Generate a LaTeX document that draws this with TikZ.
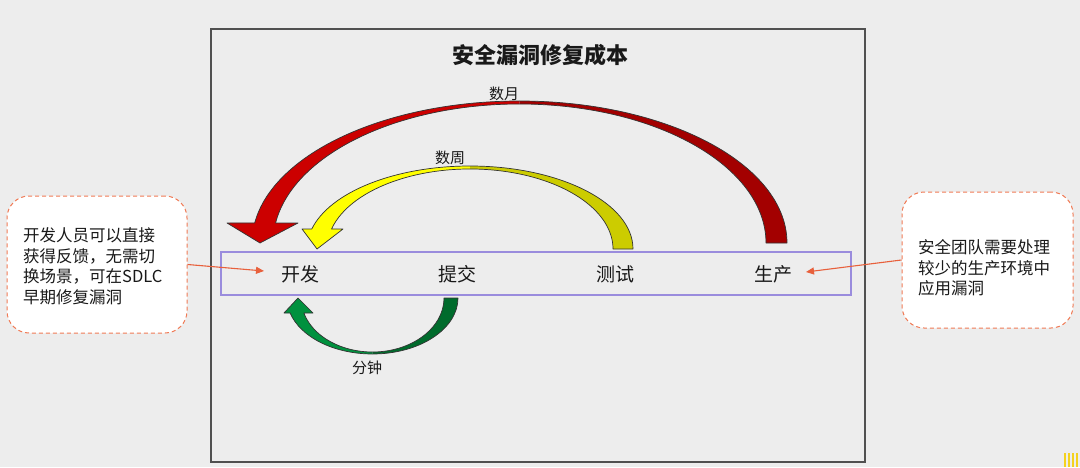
\documentclass[tikz,border=0pt]{standalone}
\usepackage{fontspec}
\newfontfamily\cjk{Noto Sans CJK SC}
\usetikzlibrary{arrows.meta}
\definecolor{bg}{HTML}{EDEDED}
\definecolor{framec}{HTML}{505050}
\definecolor{rowc}{HTML}{9A8CDD}
\definecolor{calloutc}{HTML}{F07A55}
\definecolor{linkc}{HTML}{E8603C}
\definecolor{redL}{HTML}{CC0000}
\definecolor{redR}{HTML}{A30000}
\definecolor{yelL}{HTML}{FFFF00}
\definecolor{yelR}{HTML}{CCCC00}
\definecolor{grnL}{HTML}{00913E}
\definecolor{grnR}{HTML}{006B2C}
\definecolor{stripec}{HTML}{F4D21E}
\tikzset{
  every node/.style={font=\cjk, inner sep=0pt, text=black!90},
  stage/.style={font=\cjk\fontsize{19}{22}\selectfont},
  period/.style={font=\cjk\fontsize{15}{18}\selectfont},
  callout/.style={draw=calloutc, fill=white, dashed, dash pattern=on 4pt off 3pt,
    line width=1pt, rounded corners=22pt, rectangle},
  callouttext/.style={font=\cjk\fontsize{16.5}{20.5}\selectfont, align=left, anchor=west},
  link/.style={draw=linkc, line width=1.1pt, -{Triangle[length=8pt,width=7pt]}},
  outline/.style={draw=black!80, line width=0.7pt, line join=round},
}
\begin{document}
\begin{tikzpicture}[x=1pt,y=1pt]
\useasboundingbox (0,0) rectangle (1080,467);
\fill[bg] (0,0) rectangle (1080,467);
% main frame
\draw[framec, line width=1.3pt] (211,5) rectangle (865,438);
% title
\node[font=\cjk\bfseries\fontsize{22}{26}\selectfont] (title) at (540,412) {安全漏洞修复成本};
% stage row
\draw[rowc, line width=1.5pt] (221,172) rectangle (851,215);
\node[stage] (dev) at (300,193) {开发};
\node[stage] (commit) at (457,193) {提交};
\node[stage] (test) at (615,193) {测试};
\node[stage] (prod) at (773,193) {生产};
% red curved arrow (months)
\begin{scope}[shift={(519.5,224)}]
  \fill[redL] (0,142) arc[start angle=90,end angle=171.9,x radius=267.5,y radius=142]
    -- (-292.5,20) -- (-259.5,0) -- (-221.5,20) -- (171.73:246.5 and 139)
    arc[start angle=171.73,end angle=90,x radius=246.5,y radius=139] -- cycle;
  \fill[redR] (0,142) arc[start angle=90,end angle=0,x radius=267.5,y radius=142]
    -- (246.5,0) arc[start angle=0,end angle=90,x radius=246.5,y radius=139] -- cycle;
  \draw[outline] (267.5,0) arc[start angle=0,end angle=171.9,x radius=267.5,y radius=142]
    -- (-292.5,20) -- (-259.5,0) -- (-221.5,20) -- (171.73:246.5 and 139)
    arc[start angle=171.73,end angle=0,x radius=246.5,y radius=139] -- cycle;
\end{scope}
% yellow curved arrow (weeks)
\begin{scope}[shift={(470,218)}]
  \fill[yelL] (0,83) arc[start angle=90,end angle=166.06,x radius=163,y radius=83]
    -- (-168,20) -- (-153,0) -- (-127,20) -- (165.52:143 and 80)
    arc[start angle=165.52,end angle=90,x radius=143,y radius=80] -- cycle;
  \fill[yelR] (0,83) arc[start angle=90,end angle=0,x radius=163,y radius=83]
    -- (143,0) arc[start angle=0,end angle=90,x radius=143,y radius=80] -- cycle;
  \draw[outline] (163,0) arc[start angle=0,end angle=166.06,x radius=163,y radius=83]
    -- (-168,20) -- (-153,0) -- (-127,20) -- (165.52:143 and 80)
    arc[start angle=165.52,end angle=0,x radius=143,y radius=80] -- cycle;
\end{scope}
% green curved arrow (minutes)
\begin{scope}[shift={(372.5,169)}]
  \fill[grnL] (0,-56) arc[start angle=270,end angle=195.54,x radius=85.5,y radius=56]
    -- (-88.5,-15) -- (-74.5,0) -- (-59.5,-15) -- (196.13:71.5 and 54)
    arc[start angle=196.13,end angle=270,x radius=71.5,y radius=54] -- cycle;
  \fill[grnR] (0,-56) arc[start angle=270,end angle=360,x radius=85.5,y radius=56]
    -- (71.5,0) arc[start angle=360,end angle=270,x radius=71.5,y radius=54] -- cycle;
  \draw[outline] (85.5,0) arc[start angle=360,end angle=195.54,x radius=85.5,y radius=56]
    -- (-88.5,-15) -- (-74.5,0) -- (-59.5,-15) -- (196.13:71.5 and 54)
    arc[start angle=196.13,end angle=360,x radius=71.5,y radius=54] -- cycle;
\end{scope}
% period labels
\node[period] (months) at (504,373) {数月};
\node[period] (weeks) at (450,309) {数周};
\node[period] (minutes) at (367,99) {分钟};
% callouts
\node[callout, minimum width=180, minimum height=137] (lc) at (97,202.5) {};
\node[callouttext] (lctext) at (23,201) {开发人员可以直接\\获得反馈，无需切\\换场景，可在SDLC\\早期修复漏洞};
\node[callout, minimum width=171, minimum height=136] (rc) at (987.5,207) {};
\node[callouttext] (rctext) at (918,199) {安全团队需要处理\\较少的生产环境中\\应用漏洞};
% connectors
\coordinate (devtip) at (264,196);
\coordinate (prodtip) at (806,195);
\draw[link] (lc.east) -- (devtip);
\draw[link] (rc.west) -- (prodtip);
% stripes bottom right
\foreach \sx in {1064,1068,1072,1076}
  \fill[stripec] (\sx,0) rectangle ++(2,14);
\end{tikzpicture}
\end{document}
